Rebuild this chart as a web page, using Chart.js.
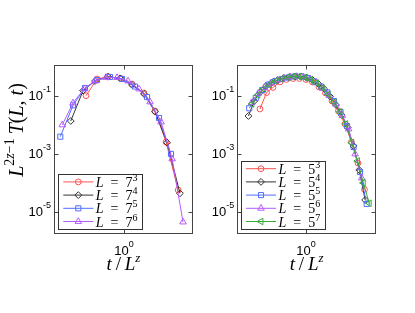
<!DOCTYPE html>
<html>
<head>
<meta charset="utf-8">
<script src="https://cdn.jsdelivr.net/npm/chart.js@4.4.1/dist/chart.umd.min.js"></script>
<style>
  body { margin: 0; background: #fff; }
  #wrap { position: relative; width: 415px; height: 313px; }
  canvas { position: absolute; top: 0; }
</style>
</head>
<body>
<div id="wrap">
  <canvas id="left" width="208" height="313" style="left:0"></canvas>
  <canvas id="right" width="207" height="313" style="left:208px"></canvas>
</div>
<script>
// tick values and their exponent labels
const yTickValues = [1e-1, 1e-3, 1e-5];
const yTickExp = ['-1', '-3', '-5'];
const xTickValues = [1];
const xTickExp = ['0'];

// left panel: L = 7^n
const leftBase = '7';
const leftExp = ['3', '4', '5', '6'];
const t73 = [0.469, 0.584, 0.727, 0.942, 1.173, 1.49, 1.854, 2.31, 2.94];
const f73 = [0.100, 0.377, 0.452, 0.392, 0.253, 0.124, 0.0297, 2.53e-3, 5.6e-5];
const t74 = [0.346, 0.442, 0.561, 0.727, 0.923, 1.173, 1.49, 1.854, 2.36, 3.05];
const f74 = [0.0134, 0.149, 0.321, 0.45, 0.398, 0.234, 0.115, 0.028, 2.4e-3, 4.3e-5];
const t75 = [0.281, 0.362, 0.459, 0.584, 0.756, 0.961, 1.245, 1.582, 2.01, 2.55];
const f75 = [3.85e-3, 0.0467, 0.185, 0.348, 0.441, 0.377, 0.207, 0.090, 0.017, 9.8e-4];
const t76 = [0.292, 0.362, 0.451, 0.561, 0.698, 0.870, 1.083, 1.349, 1.68, 2.09, 2.61, 3.24];
const f76 = [9.8e-3, 0.056, 0.170, 0.32, 0.425, 0.42, 0.32, 0.170, 0.0607, 0.0124, 6.6e-4, 4.4e-6];

// right panel: L = 5^n
const rightBase = '5';
const rightExp = ['3', '4', '5', '6', '7'];
const t53 = [0.400, 0.456, 0.518, 0.596, 0.678, 0.772, 0.879, 1.0, 1.138, 1.296, 1.475, 1.679, 1.910, 2.175, 2.475, 2.818, 3.207];
const f53 = [0.0348, 0.127, 0.192, 0.297, 0.362, 0.392, 0.392, 0.362, 0.297, 0.2, 0.124, 0.0656, 0.0297, 0.0106, 2.53e-3, 4.77e-4, 5.83e-5];
const t54 = [0.318, 0.357, 0.402, 0.451, 0.506, 0.569, 0.639, 0.717, 0.806, 0.905, 1.016, 1.143, 1.283, 1.440, 1.619, 1.818, 2.040, 2.295, 2.576, 2.891, 3.251];
const f54 = [0.01995, 0.0656, 0.134, 0.216, 0.285, 0.348, 0.407, 0.441, 0.459, 0.459, 0.425, 0.348, 0.253, 0.170, 0.0938, 0.0478, 0.0216, 0.0080, 1.85e-3, 2.74e-4, 2.53e-5];
const t55 = [0.323, 0.368, 0.419, 0.478, 0.544, 0.619, 0.704, 0.802, 0.914, 1.041, 1.184, 1.348, 1.535, 1.750, 1.992, 2.267, 2.581, 2.938, 3.350];
const f55 = [0.0368, 0.0834, 0.157, 0.243, 0.321, 0.377, 0.425, 0.459, 0.459, 0.407, 0.309, 0.207, 0.129, 0.0656, 0.0274, 0.0090, 1.70e-3, 2.34e-4, 1.85e-5];
const t56 = [0.339, 0.386, 0.438, 0.499, 0.568, 0.646, 0.734, 0.836, 0.951, 1.081, 1.230, 1.400, 1.591, 1.811, 2.061, 2.341, 2.665, 3.033];
const f56 = [0.0574, 0.119, 0.192, 0.274, 0.348, 0.407, 0.441, 0.459, 0.441, 0.377, 0.274, 0.177, 0.1016, 0.0518, 0.0207, 7.11e-3, 9.77e-4, 1.45e-4];
const t57 = [0.341, 0.384, 0.431, 0.484, 0.545, 0.611, 0.688, 0.773, 0.868, 0.976, 1.098, 1.233, 1.386, 1.556, 1.750, 1.968, 2.210, 2.485, 2.795, 3.137, 3.528];
const f57 = [0.0518, 0.1057, 0.170, 0.243, 0.321, 0.377, 0.425, 0.459, 0.459, 0.425, 0.362, 0.274, 0.185, 0.110, 0.0607, 0.0274, 0.0106, 2.39e-3, 5.6e-4, 9.8e-5, 1.95e-5];

const styles = [
  { color: '#ff5050', style: 'circle', rot: 0, r: 2.9 },
  { color: '#333333', style: 'rectRot', rot: 0, r: 3.4 },
  { color: '#4f6dff', style: 'rect', rot: 0, r: 3.6 },
  { color: '#b45cff', style: 'triangle', rot: 0, r: 3.8 },
  { color: '#36aa36', style: 'triangle', rot: -90, r: 3.8 }
];

const SANS = '"Liberation Sans", Arial, sans-serif';
const SERIF = '"Liberation Serif", "DejaVu Serif", serif';

function drawRich(ctx, parts, x, y, align) {
  let w = 0;
  parts.forEach(p => { ctx.font = p.font; p.w = ctx.measureText(p.text).width; w += p.w; });
  let cx = align === 'center' ? x - w / 2 : align === 'right' ? x - w : x;
  parts.forEach(p => { ctx.font = p.font; ctx.fillText(p.text, cx, y + (p.dy || 0)); cx += p.w; });
}

function tenTo(exp) {
  return [
    { text: '10', font: '13px ' + SANS },
    { text: exp, font: '9px ' + SANS, dy: -8 }
  ];
}

function marker(ctx, s, x, y) {
  ctx.save();
  ctx.strokeStyle = s.color;
  ctx.fillStyle = 'rgba(0,0,0,0)';
  Chart.helpers.drawPoint(ctx, { pointStyle: s.style, rotation: s.rot, radius: s.r, borderWidth: 1 }, x, y);
  ctx.restore();
}

const framePlugin = {
  id: 'frame',
  afterDatasetsDraw(chart, args, o) {
    const ctx = chart.ctx, ca = chart.chartArea;
    const xs = chart.scales.x, ys = chart.scales.y;
    ctx.save();
    ctx.strokeStyle = '#444';
    ctx.lineWidth = 1;
    const L = Math.round(ca.left) + 0.5, R = Math.round(ca.right) - 0.5;
    const T = Math.round(ca.top) + 0.5, B = Math.round(ca.bottom) - 0.5;
    ctx.strokeRect(L, T, R - L, B - T);
    ctx.beginPath();
    yTickValues.forEach(v => {
      const py = Math.round(ys.getPixelForValue(v)) + 0.5;
      ctx.moveTo(L, py); ctx.lineTo(L + 4, py);
      ctx.moveTo(R, py); ctx.lineTo(R - 4, py);
    });
    xTickValues.forEach(v => {
      const px = Math.round(xs.getPixelForValue(v)) + 0.5;
      ctx.moveTo(px, B); ctx.lineTo(px, B - 4);
      ctx.moveTo(px, T); ctx.lineTo(px, T + 4);
    });
    ctx.stroke();

    // legend
    const n = o.exps.length;
    const bx = ca.left + o.legX, bw = 84, rowH = 13.2, padY = 7.5;
    const bh = padY * 2 + (n - 1) * rowH;
    const by = ca.bottom - 5 - bh;
    ctx.fillStyle = '#fff';
    ctx.fillRect(bx, by, bw, bh);
    ctx.strokeStyle = '#333';
    ctx.strokeRect(Math.round(bx) + 0.5, Math.round(by) + 0.5, bw, Math.round(bh));
    o.exps.forEach((e, i) => {
      const s = styles[i];
      const yy = by + padY + i * rowH;
      ctx.strokeStyle = s.color;
      ctx.lineWidth = 1;
      ctx.beginPath();
      ctx.moveTo(bx + 5, yy); ctx.lineTo(bx + 35, yy);
      ctx.stroke();
      marker(ctx, s, bx + 20, yy);
      ctx.fillStyle = '#000';
      drawRich(ctx, [
        { text: 'L', font: 'italic 14px ' + SERIF },
        { text: '\u2002=\u2002' + o.base, font: '14px ' + SERIF },
        { text: e, font: '10px ' + SERIF, dy: -6 }
      ], bx + 37.5, yy + 5, 'left');
    });
    ctx.restore();
  },
  afterDraw(chart, args, o) {
    const ctx = chart.ctx, ca = chart.chartArea;
    const xs = chart.scales.x, ys = chart.scales.y;
    ctx.save();
    ctx.fillStyle = '#000';
    ctx.textBaseline = 'alphabetic';
    yTickValues.forEach((v, i) => {
      drawRich(ctx, tenTo(yTickExp[i]), ca.left - 3, ys.getPixelForValue(v) + 4.7, 'right');
    });
    xTickValues.forEach((v, i) => {
      drawRich(ctx, tenTo(xTickExp[i]), xs.getPixelForValue(v), ca.bottom + 21, 'center');
    });
    drawRich(ctx, [
      { text: 't', font: 'italic 19px ' + SERIF },
      { text: '\u2009/\u2009', font: '19px ' + SERIF },
      { text: 'L', font: 'italic 19px ' + SERIF },
      { text: 'z', font: 'italic 13px ' + SERIF, dy: -8 }
    ], (ca.left + ca.right) / 2, ca.bottom + 36, 'center');
    if (o.yTitle) {
      ctx.translate(23, 130);
      ctx.rotate(-Math.PI / 2);
      const F = 20, f = 14;
      drawRich(ctx, [
        { text: 'L', font: 'italic ' + F + 'px ' + SERIF },
        { text: '2', font: f + 'px ' + SERIF, dy: -9 },
        { text: 'z', font: 'italic ' + f + 'px ' + SERIF, dy: -9 },
        { text: '\u22121', font: f + 'px ' + SERIF, dy: -9 },
        { text: '\u2009T', font: 'italic ' + F + 'px ' + SERIF },
        { text: '(', font: F + 'px ' + SERIF },
        { text: 'L', font: 'italic ' + F + 'px ' + SERIF },
        { text: ', ', font: F + 'px ' + SERIF },
        { text: 't', font: 'italic ' + F + 'px ' + SERIF },
        { text: ')', font: F + 'px ' + SERIF }
      ], 0, 0, 'center');
    }
    ctx.restore();
  }
};

function makePanel(id, xs, ys, exps, base, pad, xMin, xMax, legX, yTitle) {
  const datasets = xs.map((xv, i) => {
    const s = styles[i];
    return {
      label: 'L = ' + base + '^' + exps[i],
      data: xv.map((v, k) => ({ x: v, y: ys[i][k] })),
      showLine: true,
      borderColor: s.color,
      borderWidth: 1,
      pointStyle: s.style,
      pointRotation: s.rot,
      pointRadius: s.r,
      pointBorderWidth: 1,
      pointBorderColor: s.color,
      pointBackgroundColor: 'rgba(0,0,0,0)',
      order: xs.length - i
    };
  });
  return new Chart(document.getElementById(id), {
    type: 'scatter',
    data: { datasets },
    plugins: [framePlugin],
    options: {
      responsive: false,
      animation: false,
      devicePixelRatio: 1,
      layout: { padding: pad },
      plugins: {
        legend: { display: false },
        tooltip: { enabled: false },
        frame: { exps, base, legX, yTitle }
      },
      scales: {
        x: { type: 'logarithmic', display: false, min: xMin, max: xMax },
        y: { type: 'logarithmic', display: false, min: Math.pow(10, -5.77), max: Math.pow(10, 0.058) }
      }
    }
  });
}

makePanel('left', [t73, t74, t75, t76], [f73, f74, f75, f76], leftExp, leftBase,
  { left: 54, right: 15, top: 65, bottom: 79 }, Math.pow(10, -0.606), Math.pow(10, 0.597), 4.3, true);
makePanel('right', [t53, t54, t55, t56, t57], [f53, f54, f55, f56, f57], rightExp, rightBase,
  { left: 29.3, right: 39, top: 65, bottom: 79 }, Math.pow(10, -0.594), Math.pow(10, 0.606), 3.7, false);
</script>
</body>
</html>
